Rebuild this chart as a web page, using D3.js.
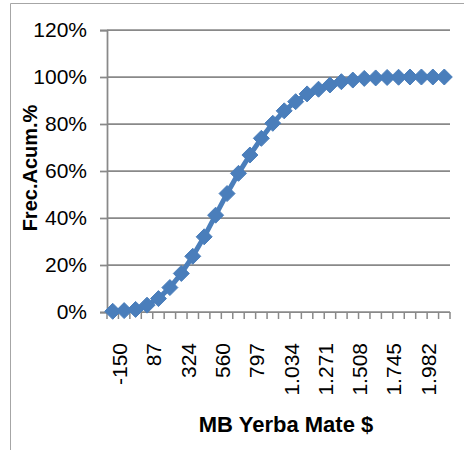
<!DOCTYPE html>
<html>
<head>
<meta charset="utf-8">
<script src="https://cdn.jsdelivr.net/npm/d3@7"></script>
<style>
  body { margin: 0; background: #fff; }
  text { font-family: "Liberation Sans", Arial, sans-serif; fill: #000; }
</style>
</head>
<body>
<div class="vis"></div>
<script>
'use strict';

// categories: class marks of MB Yerba Mate $ (step 79)
var categories = [
  '-150', '-71', '8', '87', '166', '245', '324', '403', '481', '560',
  '639', '718', '797', '876', '955', '1.034', '1.113', '1.192', '1.271', '1.350',
  '1.429', '1.508', '1.587', '1.666', '1.745', '1.824', '1.903', '1.982', '2.061', '2.140'
];

// cumulative frequency, %
var cumFreq = [
  0.3, 0.6, 1.1, 2.9, 5.7, 10.4, 16.4, 23.7, 32.0, 41.2,
  50.4, 59.0, 66.8, 73.9, 80.3, 85.6, 89.5, 92.8, 94.8, 96.6,
  98.0, 98.7, 99.4, 99.6, 99.8, 99.9, 100, 100, 100, 100
];

var yTicks = [0, 20, 40, 60, 80, 100, 120];

(function () {
  var width = 464;
  var height = 450;
  var mLeft = 107, mRight = 450, mTop = 30, mBottom = 312;
  var gray = '#898989';
  var blue = '#4a7ebb';

  var svg = d3.select('.vis')
    .append('svg')
    .attr('width', width)
    .attr('height', height);

  // outer chart border (clipped by the picture)
  svg.append('path')
    .attr('d', 'M10.5,' + (height + 5) + 'V3.5H' + (width + 5))
    .attr('fill', 'none')
    .attr('stroke', '#a6a6a6')
    .attr('stroke-width', 1);

  var x = d3.scaleBand()
    .domain(categories)
    .range([mLeft, mRight]);

  var y = d3.scaleLinear()
    .domain([0, 120])
    .range([mBottom, mTop]);

  // y axis with labels
  var yAxis = svg.append('g')
    .attr('transform', 'translate(' + mLeft + ',0)')
    .call(d3.axisLeft(y)
      .tickValues(yTicks)
      .tickSize(7)
      .tickPadding(13)
      .tickFormat(function(d) { return d + '%'; }));

  yAxis.select('.domain').attr('stroke', gray).attr('stroke-width', 1.75);
  yAxis.selectAll('.tick line').attr('stroke', gray).attr('stroke-width', 1.75);
  yAxis.selectAll('.tick text')
    .style('font-size', '21px')
    .attr('fill', '#000');

  // gridlines
  svg.append('g')
    .selectAll('line')
    .data(yTicks.filter(function(d) { return d > 0; }))
    .join('line')
    .attr('x1', mLeft)
    .attr('x2', mRight)
    .attr('y1', function(d) { return y(d); })
    .attr('y2', function(d) { return y(d); })
    .attr('stroke', gray)
    .attr('stroke-width', 1.75);

  // x axis line and tick marks at band boundaries
  svg.append('line')
    .attr('x1', mLeft).attr('x2', mRight)
    .attr('y1', mBottom).attr('y2', mBottom)
    .attr('stroke', gray).attr('stroke-width', 1.75);

  var bounds = d3.range(categories.length + 1).map(function(i) {
    return mLeft + i * x.step();
  });

  svg.append('g')
    .selectAll('line')
    .data(bounds)
    .join('line')
    .attr('x1', function(d) { return d; })
    .attr('x2', function(d) { return d; })
    .attr('y1', mBottom)
    .attr('y2', mBottom + 7)
    .attr('stroke', gray)
    .attr('stroke-width', 1.5);

  // rotated category labels, every third one
  svg.append('g')
    .selectAll('text')
    .data(categories.filter(function(d, i) { return i % 3 === 0; }))
    .join('text')
    .attr('transform', function(d) {
      return 'translate(' + (x(d) + x.bandwidth() / 2 + 7) + ',' + (mBottom + 31) + ') rotate(-90)';
    })
    .attr('text-anchor', 'end')
    .attr('dy', '0.35em')
    .style('font-size', '21px')
    .text(function(d) { return d; });

  // line + diamonds
  var line = d3.line()
    .x(function(d, i) { return x(categories[i]) + x.bandwidth() / 2; })
    .y(function(d) { return y(d); });

  svg.append('path')
    .datum(cumFreq)
    .attr('d', line)
    .attr('fill', 'none')
    .attr('stroke', blue)
    .attr('stroke-width', 5)
    .attr('stroke-linejoin', 'round');

  var r = 8;
  svg.append('g')
    .selectAll('path')
    .data(cumFreq)
    .join('path')
    .attr('transform', function(d, i) {
      return 'translate(' + (x(categories[i]) + x.bandwidth() / 2) + ',' + y(d) + ')';
    })
    .attr('d', 'M0,' + (-r) + 'L' + r + ',0L0,' + r + 'L' + (-r) + ',0Z')
    .attr('fill', blue)
    .attr('stroke', blue)
    .attr('stroke-width', 1);

  // axis titles
  svg.append('text')
    .attr('transform', 'translate(37,168) rotate(-90)')
    .attr('text-anchor', 'middle')
    .style('font-size', '20px')
    .style('font-weight', 'bold')
    .text('Frec.Acum.%');

  svg.append('text')
    .attr('x', 286)
    .attr('y', 432)
    .attr('text-anchor', 'middle')
    .style('font-size', '22px')
    .style('font-weight', 'bold')
    .text('MB Yerba Mate $');
})();
</script>
</body>
</html>
